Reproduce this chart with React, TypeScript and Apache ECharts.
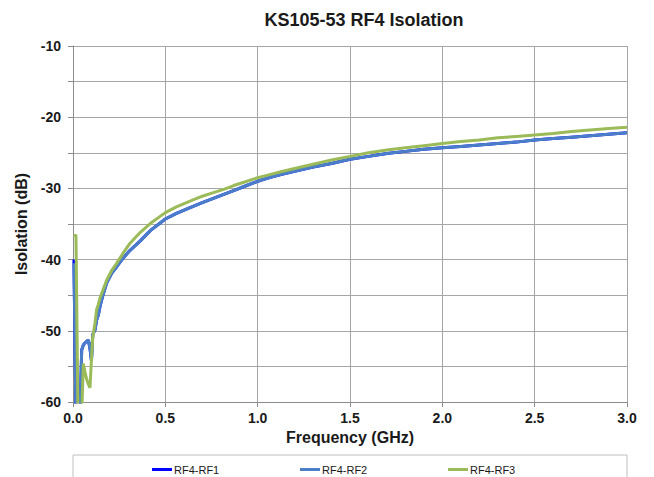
import React, { useEffect, useRef } from "react";
import * as echarts from "echarts";

const title = "KS105-53 RF4 Isolation";
const xName = "Frequency (GHz)";
const yName = "Isolation (dB)";
const seriesNames = ["RF4-RF1", "RF4-RF2", "RF4-RF3"];
const seriesColors = ["#0000ff", "#4a7fc8", "#9bbb59"];

const freq = [
  0.005, 0.016, 0.027, 0.038, 0.047, 0.056, 0.065, 0.074, 0.083, 0.092,
  0.1, 0.107, 0.119, 0.128, 0.137, 0.146, 0.162, 0.182, 0.21, 0.237,
  0.271, 0.309, 0.363, 0.42, 0.5, 0.56, 0.634, 0.7, 0.76, 0.82,
  0.87, 0.93, 1.0, 1.06, 1.12, 1.2, 1.3, 1.4, 1.5, 1.6,
  1.7, 1.8, 1.9, 2.0, 2.1, 2.2, 2.3, 2.4, 2.5, 2.6,
  2.7, 2.8, 2.9, 3.0,
];

const rf1 = [
  -40.0, -62, -62, -62, -52.7, -52.0, -51.7, -51.5, -51.3, -52.5,
  -54.2, -50.5, -49.9, -48.5, -47.8, -46.6, -45.0, -43.3, -41.9, -41.0,
  -39.8, -38.7, -37.4, -35.9, -34.3, -33.5, -32.7, -32.0, -31.4, -30.8,
  -30.3, -29.7, -29.0, -28.5, -28.1, -27.6, -27.0, -26.5, -25.9, -25.5,
  -25.1, -24.8, -24.5, -24.3, -24.1, -23.9, -23.7, -23.5, -23.2, -23.0,
  -22.8, -22.6, -22.4, -22.2,
];

const rf2 = [
  -40.5, -62, -62, -62, -52.7, -52.0, -51.7, -51.5, -51.3, -52.5,
  -54.2, -50.5, -49.9, -48.5, -47.8, -46.6, -45.0, -43.3, -41.9, -41.0,
  -39.8, -38.7, -37.4, -35.9, -34.3, -33.5, -32.7, -32.0, -31.4, -30.8,
  -30.3, -29.7, -29.0, -28.5, -28.1, -27.6, -27.0, -26.5, -25.9, -25.5,
  -25.1, -24.8, -24.5, -24.3, -24.1, -23.9, -23.7, -23.5, -23.2, -23.0,
  -22.8, -22.6, -22.4, -22.2,
];

const rf3 = [
  -36.8, -36.5, -62, -62, -62, -54.6, -55.8, -56.8, -57.5, -58.0,
  -54.0, -50.9, -48.9, -47.0, -46.3, -45.4, -44.3, -42.9, -41.5, -40.5,
  -39.1, -37.7, -36.2, -34.9, -33.4, -32.6, -31.8, -31.1, -30.6, -30.1,
  -29.6, -29.1, -28.5, -28.1, -27.7, -27.2, -26.6, -26.0, -25.5, -25.0,
  -24.6, -24.3, -24.0, -23.7, -23.4, -23.2, -22.9, -22.7, -22.5, -22.3,
  -22.0, -21.8, -21.6, -21.4,
];

const allValues = [rf1, rf2, rf3];

const FONT = "'Liberation Sans', Arial, sans-serif";
const legendLefts = [147, 295, 443];

export default function App() {
  const ref = useRef<HTMLDivElement>(null);
  useEffect(() => {
    if (!ref.current) return;
    const chart = echarts.init(ref.current, undefined, { renderer: "svg" });
    const series = seriesNames.map((name, i) => ({
      name,
      type: "line",
      data: freq.map((f, j) => [f, allValues[i][j]]),
      showSymbol: false,
      clip: true,
      lineStyle: { color: seriesColors[i], width: 3 },
      itemStyle: { color: seriesColors[i] },
      z: 2 + i,
    }));
    chart.setOption({
      animation: false,
      backgroundColor: "#ffffff",
      textStyle: { fontFamily: FONT },
      title: {
        text: title,
        left: 359,
        textAlign: "center",
        top: 6,
        textStyle: { fontFamily: FONT, fontSize: 18, fontWeight: "bold", color: "#1a1a1a" },
      },
      grid: { left: 73, right: 27, top: 46, bottom: 75, containLabel: false },
      legend: seriesNames.map((name, i) => ({
        data: [name],
        left: legendLefts[i],
        top: 459,
        icon: "rect",
        itemWidth: 20,
        itemHeight: 3,
        itemGap: 0,
        selectedMode: false,
        textStyle: { fontFamily: FONT, fontSize: 11, color: "#1a1a1a", padding: [0, 0, 0, -3] },
      })),
      xAxis: {
        type: "value",
        min: 0,
        max: 3,
        interval: 0.5,
        name: xName,
        nameLocation: "middle",
        nameGap: 27,
        nameTextStyle: { fontFamily: FONT, fontSize: 16, fontWeight: "bold", color: "#1a1a1a" },
        axisLine: { show: true, lineStyle: { color: "#8c8c8c", width: 1 } },
        axisTick: { show: true, length: 5, lineStyle: { color: "#8c8c8c" } },
        axisLabel: {
          margin: 9,
          fontFamily: FONT,
          fontSize: 14,
          fontWeight: "bold",
          color: "#1a1a1a",
          formatter: (v: number) => v.toFixed(1),
        },
        splitLine: { show: true, lineStyle: { color: "#a6a6a6", width: 1 } },
      },
      yAxis: {
        type: "value",
        min: -60,
        max: -10,
        interval: 5,
        name: yName,
        nameLocation: "middle",
        nameGap: 42,
        nameTextStyle: { fontFamily: FONT, fontSize: 16, fontWeight: "bold", color: "#1a1a1a" },
        axisLine: { show: true, lineStyle: { color: "#8c8c8c", width: 1 } },
        axisTick: { show: true, length: 5, lineStyle: { color: "#8c8c8c" } },
        axisLabel: {
          margin: 12,
          fontFamily: FONT,
          fontSize: 14,
          fontWeight: "bold",
          color: "#1a1a1a",
          formatter: (v: number) => (v % 10 === 0 ? String(v) : ""),
        },
        splitLine: { show: true, lineStyle: { color: "#a6a6a6", width: 1 } },
      },
      graphic: [
        {
          type: "rect",
          shape: { x: 73, y: 455, width: 554, height: 40 },
          style: { fill: "none", stroke: "#bfbfbf", lineWidth: 1 },
          silent: true,
        },
      ],
      series,
    });
    return () => chart.dispose();
  }, []);
  return (
    <div
      ref={ref}
      style={{ position: "absolute", left: 0, top: 0, width: 654, height: 477 }}
    />
  );
}
